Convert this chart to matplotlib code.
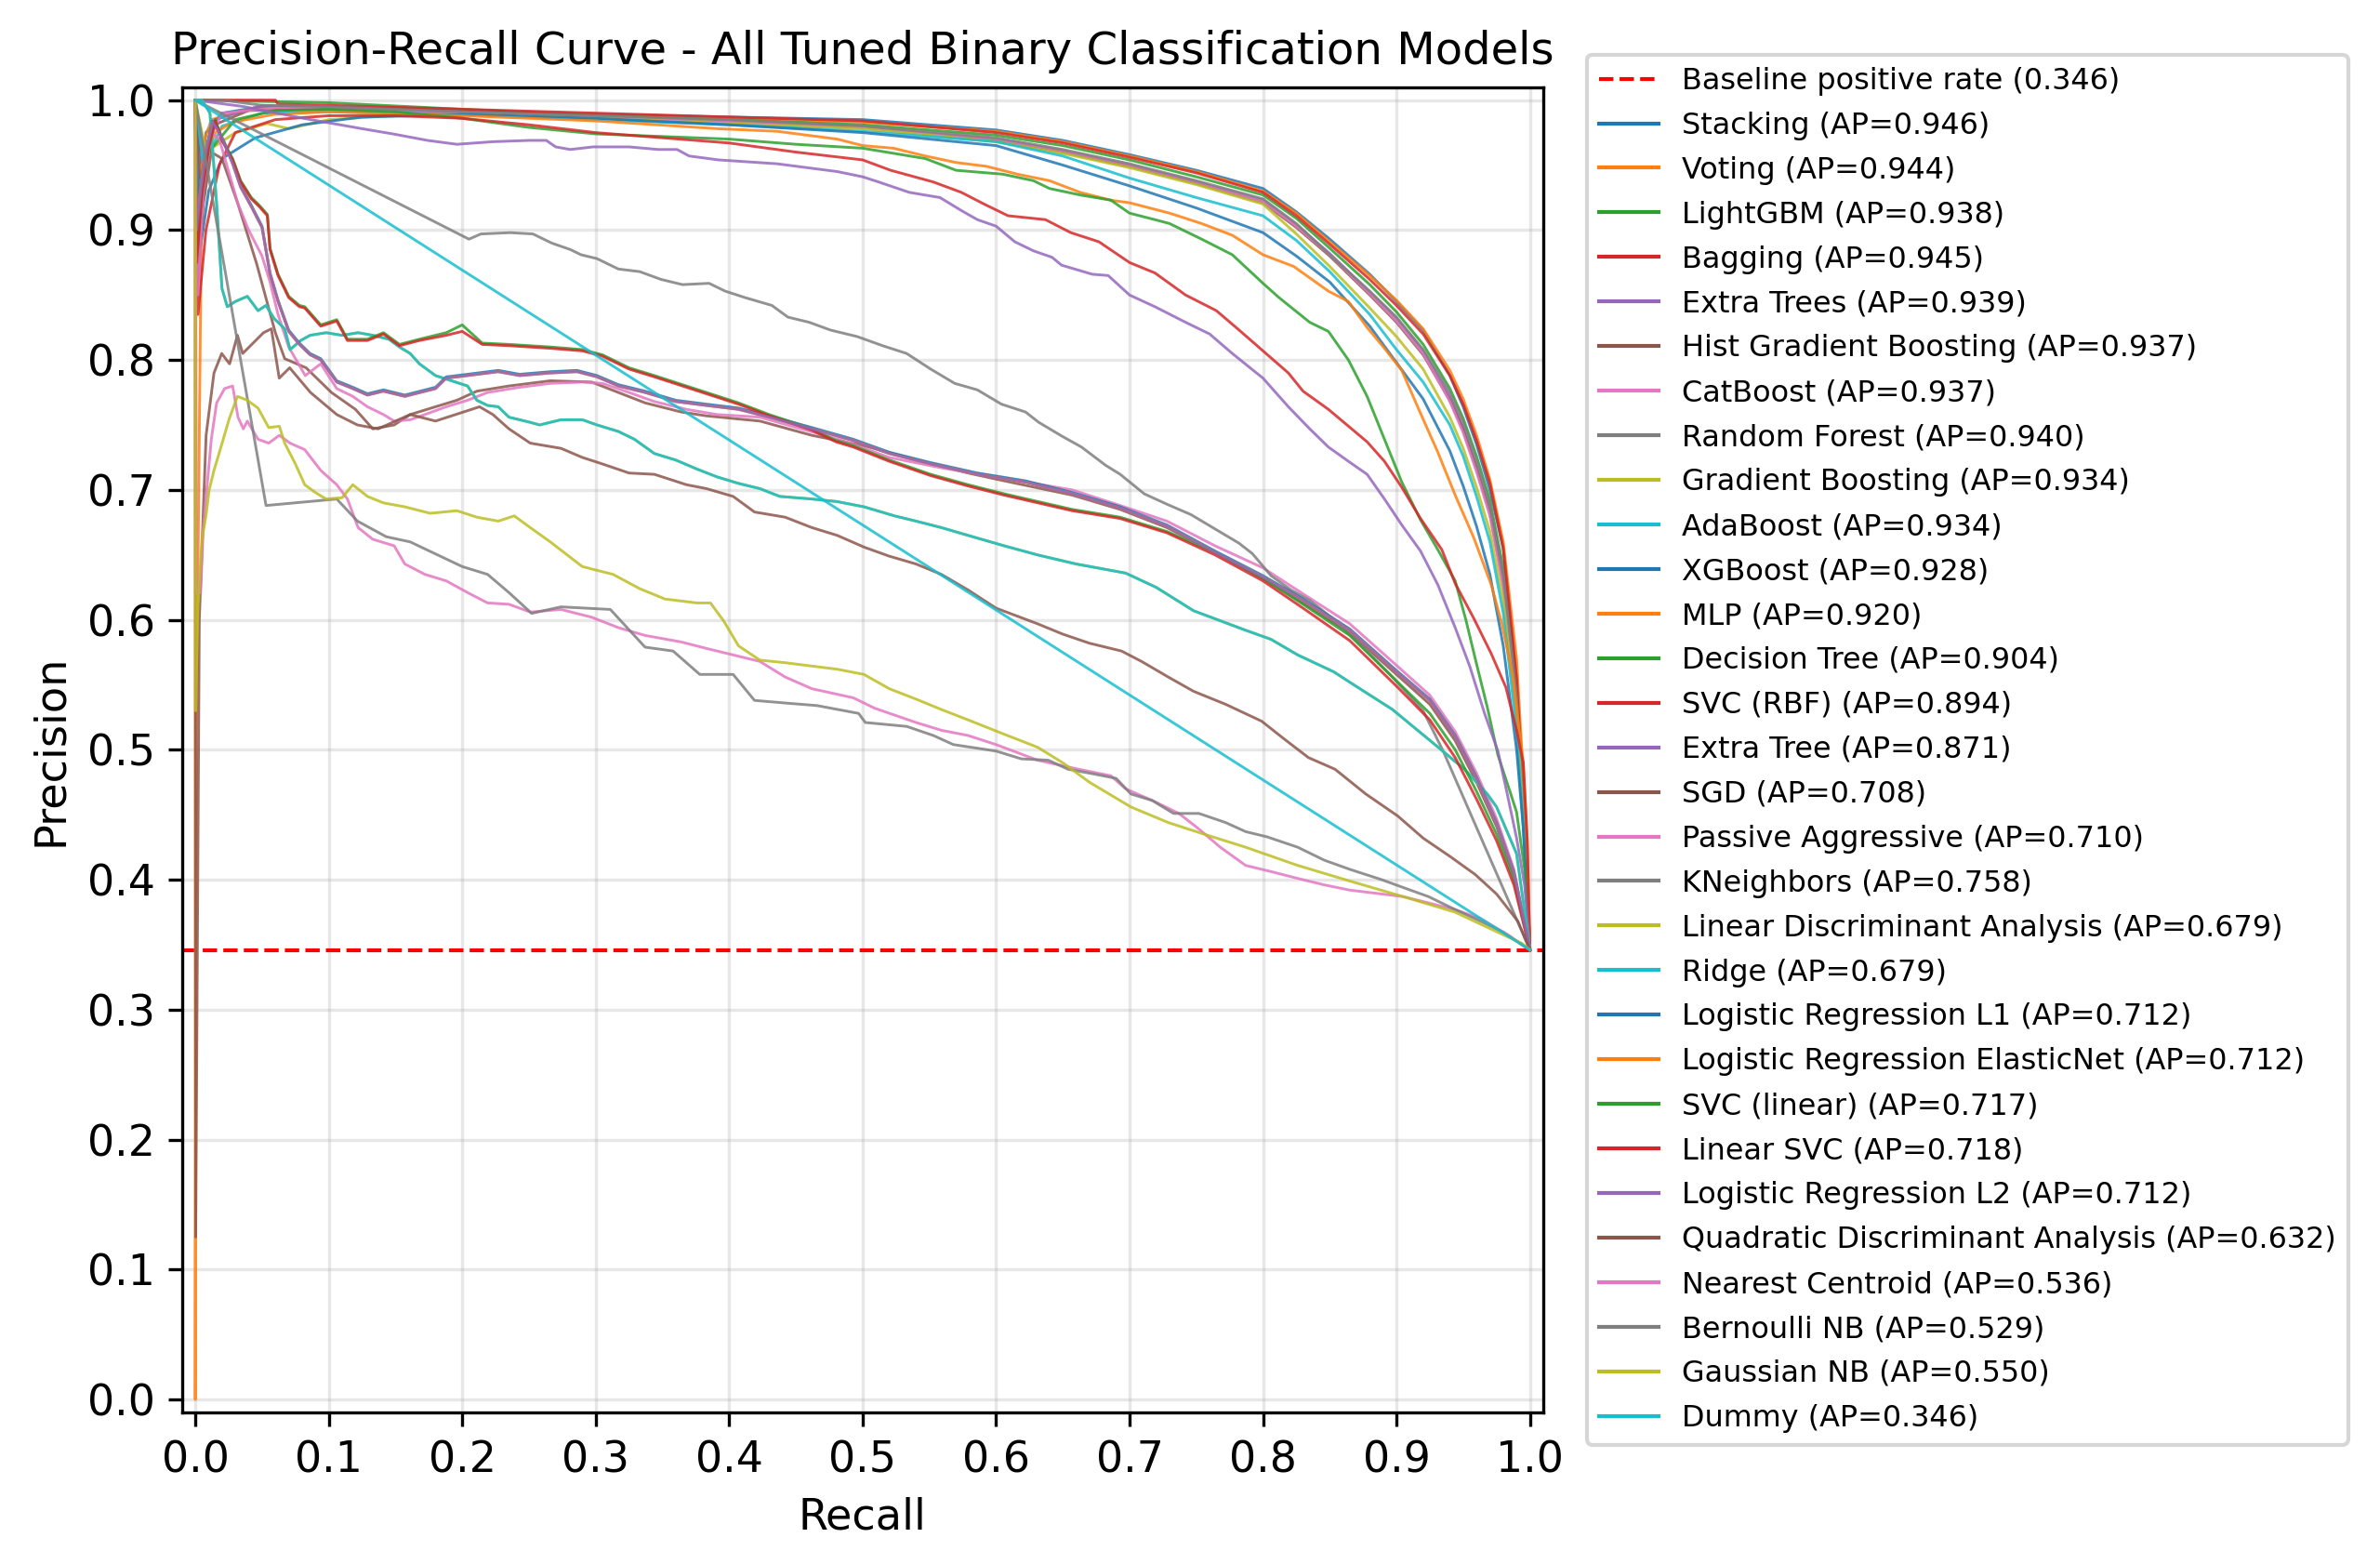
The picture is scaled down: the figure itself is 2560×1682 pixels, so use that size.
import matplotlib
matplotlib.use("Agg")
import matplotlib.pyplot as plt

# ---------------- data (recall, precision) ----------------
BASELINE = 0.346

STACKING = [(0.0, 1.0), (0.003, 0.93), (0.008, 0.975), (0.02, 0.99), (0.05, 0.995), (0.1, 0.995), (0.2, 0.992),
            (0.3, 0.989), (0.4, 0.987), (0.5, 0.985), (0.6, 0.977), (0.65, 0.969), (0.7, 0.958), (0.75, 0.946),
            (0.8, 0.932), (0.825, 0.914), (0.85, 0.893), (0.88, 0.866), (0.9, 0.845), (0.92, 0.823), (0.94, 0.788),
            (0.95, 0.764), (0.96, 0.735), (0.97, 0.700), (0.98, 0.655), (0.99, 0.555), (0.995, 0.470), (1.0, 0.346)]
VOTING = [(0.0, 1.0), (0.004, 0.96), (0.012, 0.985), (0.04, 0.993), (0.1, 0.994), (0.2, 0.991), (0.3, 0.988),
          (0.4, 0.986), (0.5, 0.983), (0.6, 0.976), (0.65, 0.968), (0.7, 0.957), (0.75, 0.945), (0.8, 0.930),
          (0.825, 0.913), (0.85, 0.891), (0.88, 0.865), (0.9, 0.846), (0.92, 0.824), (0.94, 0.792), (0.95, 0.770),
          (0.96, 0.742), (0.97, 0.708), (0.98, 0.660), (0.99, 0.570), (0.995, 0.480), (1.0, 0.346)]
LIGHTGBM = [(0.0, 1.0), (0.1, 0.998), (0.2, 0.993), (0.3, 0.988), (0.4, 0.985), (0.5, 0.981), (0.6, 0.973),
            (0.65, 0.965), (0.7, 0.954), (0.75, 0.941), (0.8, 0.927), (0.825, 0.909), (0.85, 0.886), (0.88, 0.858),
            (0.9, 0.837), (0.92, 0.812), (0.94, 0.778), (0.95, 0.755), (0.96, 0.726), (0.97, 0.692), (0.98, 0.640),
            (0.99, 0.545), (0.995, 0.460), (1.0, 0.346)]
BAGGING = [(0.0, 1.0), (0.06, 1.0), (0.062, 0.997), (0.1, 0.996), (0.2, 0.993), (0.3, 0.990), (0.4, 0.987),
           (0.5, 0.984), (0.6, 0.975), (0.65, 0.967), (0.7, 0.956), (0.75, 0.944), (0.8, 0.929), (0.825, 0.911),
           (0.85, 0.889), (0.88, 0.862), (0.9, 0.842), (0.92, 0.820), (0.94, 0.788), (0.95, 0.766), (0.96, 0.738),
           (0.97, 0.705), (0.98, 0.655), (0.99, 0.555), (0.995, 0.465), (1.0, 0.346)]
EXTRA_TREES = [(0.0, 1.0), (0.005, 0.95), (0.015, 0.985), (0.05, 0.996), (0.1, 0.994), (0.2, 0.991), (0.3, 0.987),
               (0.4, 0.983), (0.5, 0.979), (0.6, 0.970), (0.65, 0.961), (0.7, 0.950), (0.75, 0.937), (0.8, 0.923),
               (0.825, 0.904), (0.85, 0.882), (0.88, 0.852), (0.9, 0.832), (0.92, 0.807), (0.94, 0.772),
               (0.95, 0.748), (0.96, 0.718), (0.97, 0.684), (0.98, 0.632), (0.99, 0.540), (0.995, 0.455), (1.0, 0.346)]
HIST_GB = [(0.0, 1.0), (0.004, 0.94), (0.012, 0.98), (0.04, 0.992), (0.1, 0.993), (0.2, 0.990), (0.3, 0.987),
           (0.4, 0.983), (0.5, 0.979), (0.6, 0.969), (0.65, 0.960), (0.7, 0.949), (0.75, 0.936), (0.8, 0.921),
           (0.825, 0.902), (0.85, 0.880), (0.88, 0.850), (0.9, 0.829), (0.92, 0.804), (0.94, 0.769), (0.95, 0.746),
           (0.96, 0.716), (0.97, 0.682), (0.98, 0.628), (0.99, 0.535), (0.995, 0.450), (1.0, 0.346)]
CATBOOST = [(0.0, 1.0), (0.006, 0.96), (0.02, 0.99), (0.06, 0.994), (0.1, 0.994), (0.2, 0.990), (0.3, 0.987),
            (0.4, 0.983), (0.5, 0.979), (0.6, 0.970), (0.65, 0.961), (0.7, 0.950), (0.75, 0.937), (0.8, 0.922),
            (0.825, 0.903), (0.85, 0.881), (0.88, 0.851), (0.9, 0.830), (0.92, 0.805), (0.94, 0.768), (0.95, 0.744),
            (0.96, 0.714), (0.97, 0.680), (0.98, 0.625), (0.99, 0.532), (0.995, 0.450), (1.0, 0.346)]
RANDOM_FOREST = [(0.0, 1.0), (0.02, 1.0), (0.05, 0.996), (0.1, 0.995), (0.2, 0.991), (0.3, 0.988), (0.4, 0.985),
                 (0.5, 0.980), (0.6, 0.971), (0.65, 0.962), (0.7, 0.951), (0.75, 0.938), (0.8, 0.924), (0.825, 0.905),
                 (0.85, 0.881), (0.88, 0.853), (0.9, 0.833), (0.92, 0.808), (0.94, 0.775), (0.95, 0.752),
                 (0.96, 0.722), (0.97, 0.688), (0.98, 0.635), (0.99, 0.540), (0.995, 0.455), (1.0, 0.346)]
GRAD_BOOST = [(0.0, 1.0), (0.008, 0.96), (0.03, 0.975), (0.054, 0.982), (0.07, 0.978), (0.1, 0.985), (0.15, 0.988),
              (0.2, 0.989), (0.3, 0.986), (0.4, 0.982), (0.5, 0.978), (0.6, 0.968), (0.65, 0.959), (0.7, 0.948),
              (0.75, 0.935), (0.8, 0.920), (0.825, 0.897), (0.85, 0.872), (0.88, 0.840), (0.9, 0.818), (0.92, 0.793),
              (0.94, 0.756), (0.95, 0.732), (0.96, 0.702), (0.97, 0.668), (0.98, 0.615), (0.99, 0.525),
              (0.995, 0.445), (1.0, 0.346)]
ADABOOST = [(0.0, 1.0), (0.006, 0.95), (0.02, 0.98), (0.05, 0.99), (0.1, 0.991), (0.2, 0.989), (0.3, 0.985),
            (0.4, 0.981), (0.5, 0.976), (0.6, 0.968), (0.65, 0.957), (0.7, 0.940), (0.75, 0.925), (0.8, 0.911),
            (0.825, 0.892), (0.85, 0.868), (0.88, 0.835), (0.9, 0.808), (0.92, 0.783), (0.94, 0.750), (0.95, 0.726),
            (0.96, 0.695), (0.97, 0.660), (0.98, 0.605), (0.99, 0.515), (0.995, 0.440), (1.0, 0.346)]
XGBOOST = [(0.0, 1.0), (0.003, 0.88), (0.01, 0.93), (0.02, 0.955), (0.045, 0.971), (0.08, 0.981), (0.125, 0.987),
           (0.17, 0.988), (0.2, 0.989), (0.3, 0.986), (0.4, 0.981), (0.5, 0.975), (0.6, 0.965), (0.65, 0.950),
           (0.7, 0.934), (0.75, 0.917), (0.8, 0.898), (0.825, 0.880), (0.85, 0.860), (0.88, 0.826), (0.9, 0.798),
           (0.92, 0.770), (0.94, 0.730), (0.95, 0.703), (0.96, 0.672), (0.97, 0.635), (0.98, 0.580), (0.99, 0.500),
           (0.995, 0.440), (1.0, 0.346)]
MLP = [(0.0, 1.0), (0.0, 0.0), (0.0007, 0.5), (0.005, 0.95), (0.015, 0.975), (0.028, 0.983), (0.059, 0.989),
       (0.1, 0.991), (0.2, 0.988), (0.3, 0.984), (0.392, 0.978), (0.436, 0.976), (0.481, 0.970), (0.5, 0.965),
       (0.523, 0.963), (0.547, 0.957), (0.57, 0.952), (0.593, 0.949), (0.616, 0.943), (0.64, 0.938),
       (0.663, 0.929), (0.686, 0.923), (0.7, 0.921), (0.73, 0.913), (0.754, 0.905), (0.777, 0.896), (0.8, 0.881),
       (0.823, 0.872), (0.849, 0.853), (0.864, 0.845), (0.878, 0.825), (0.891, 0.809), (0.904, 0.792),
       (0.918, 0.759), (0.931, 0.729), (0.944, 0.696), (0.958, 0.663), (0.971, 0.627), (0.979, 0.597),
       (0.987, 0.558), (0.992, 0.515), (0.995, 0.490), (0.998, 0.430), (1.0, 0.346)]
DECISION_TREE = [(0.0, 1.0), (0.002, 0.89), (0.01, 0.96), (0.03, 0.985), (0.06, 0.992), (0.1, 0.993), (0.15, 0.991),
                 (0.2, 0.986), (0.25, 0.979), (0.3, 0.974), (0.35, 0.972), (0.4, 0.970), (0.45, 0.966), (0.5, 0.963),
                 (0.547, 0.955), (0.57, 0.946), (0.605, 0.943), (0.628, 0.938), (0.64, 0.932), (0.663, 0.927),
                 (0.686, 0.923), (0.7, 0.913), (0.719, 0.908), (0.73, 0.905), (0.754, 0.893), (0.777, 0.881),
                 (0.8, 0.859), (0.812, 0.848), (0.835, 0.829), (0.849, 0.822), (0.864, 0.800), (0.878, 0.772),
                 (0.891, 0.739), (0.904, 0.706), (0.918, 0.677), (0.931, 0.654), (0.944, 0.630), (0.952, 0.600),
                 (0.96, 0.566), (0.968, 0.533), (0.976, 0.496), (0.985, 0.468), (0.99, 0.452), (0.996, 0.408),
                 (1.0, 0.346)]
SVC_RBF = [(0.0, 1.0), (0.002, 0.835), (0.008, 0.90), (0.018, 0.95), (0.03, 0.975), (0.06, 0.985), (0.1, 0.988),
           (0.15, 0.988), (0.2, 0.986), (0.25, 0.981), (0.3, 0.975), (0.35, 0.971), (0.4, 0.967), (0.45, 0.960),
           (0.5, 0.954), (0.521, 0.946), (0.553, 0.937), (0.574, 0.929), (0.591, 0.920), (0.609, 0.911),
           (0.637, 0.908), (0.656, 0.898), (0.677, 0.891), (0.7, 0.875), (0.719, 0.867), (0.742, 0.850),
           (0.765, 0.838), (0.781, 0.824), (0.8, 0.807), (0.819, 0.790), (0.83, 0.776), (0.849, 0.762),
           (0.878, 0.737), (0.891, 0.722), (0.904, 0.702), (0.918, 0.678), (0.934, 0.654), (0.944, 0.628),
           (0.958, 0.601), (0.971, 0.574), (0.982, 0.548), (0.99, 0.515), (0.995, 0.490), (0.998, 0.430),
           (1.0, 0.346)]
EXTRA_TREE = [(0.0, 1.0), (0.0365, 0.995), (0.081, 0.986), (0.125, 0.978), (0.148, 0.974), (0.174, 0.969),
              (0.196, 0.966), (0.223, 0.968), (0.25, 0.969), (0.263, 0.969), (0.27, 0.964), (0.281, 0.962),
              (0.298, 0.964), (0.325, 0.964), (0.347, 0.962), (0.361, 0.962), (0.37, 0.957), (0.392, 0.954),
              (0.436, 0.951), (0.481, 0.945), (0.5, 0.941), (0.512, 0.937), (0.535, 0.929), (0.558, 0.925),
              (0.574, 0.915), (0.586, 0.908), (0.6, 0.903), (0.614, 0.891), (0.628, 0.884), (0.642, 0.879),
              (0.649, 0.873), (0.672, 0.866), (0.684, 0.865), (0.7, 0.850), (0.719, 0.841), (0.742, 0.829),
              (0.76, 0.820), (0.777, 0.805), (0.8, 0.786), (0.819, 0.764), (0.835, 0.747), (0.849, 0.733),
              (0.864, 0.722), (0.878, 0.712), (0.891, 0.693), (0.904, 0.673), (0.918, 0.653), (0.931, 0.627),
              (0.944, 0.594), (0.955, 0.564), (0.966, 0.528), (0.976, 0.499), (0.983, 0.466), (0.99, 0.432),
              (0.996, 0.396), (1.0, 0.346)]
SGD = [(0.0, 1.0), (0.002, 0.86), (0.006, 0.92), (0.012, 0.96), (0.02, 0.955), (0.032, 0.92), (0.046, 0.874),
       (0.06, 0.821), (0.067, 0.801), (0.083, 0.794), (0.102, 0.775), (0.12, 0.762), (0.133, 0.747), (0.149, 0.750),
       (0.161, 0.758), (0.18, 0.764), (0.196, 0.769), (0.211, 0.776), (0.235, 0.780), (0.266, 0.784), (0.297, 0.783),
       (0.317, 0.775), (0.337, 0.767), (0.364, 0.760), (0.383, 0.757), (0.423, 0.753), (0.462, 0.742),
       (0.501, 0.734), (0.54, 0.723), (0.579, 0.713), (0.606, 0.707), (0.657, 0.696), (0.693, 0.685),
       (0.728, 0.671), (0.764, 0.652), (0.8, 0.632), (0.83, 0.613), (0.865, 0.590), (0.9, 0.558), (0.925, 0.535),
       (0.944, 0.507), (0.96, 0.475), (0.975, 0.441), (0.988, 0.403), (1.0, 0.346)]
PASSIVE_AGG = [(0.0, 1.0), (0.002, 0.85), (0.006, 0.93), (0.012, 0.975), (0.018, 0.97), (0.025, 0.945),
               (0.032, 0.92), (0.04, 0.90), (0.05, 0.88), (0.056, 0.86), (0.062, 0.835), (0.07, 0.81),
               (0.0824, 0.788), (0.094, 0.797), (0.106, 0.778), (0.118, 0.772), (0.129, 0.764), (0.141, 0.758),
               (0.149, 0.753), (0.161, 0.754), (0.172, 0.758), (0.188, 0.764), (0.204, 0.769), (0.219, 0.775),
               (0.243, 0.779), (0.266, 0.782), (0.29, 0.783), (0.305, 0.782), (0.325, 0.775), (0.344, 0.768),
               (0.368, 0.762), (0.391, 0.758), (0.423, 0.756), (0.454, 0.747), (0.485, 0.738), (0.52, 0.725),
               (0.559, 0.717), (0.606, 0.709), (0.657, 0.700), (0.693, 0.688), (0.728, 0.676), (0.764, 0.657),
               (0.8, 0.640), (0.83, 0.620), (0.865, 0.597), (0.9, 0.565), (0.925, 0.542), (0.944, 0.514),
               (0.96, 0.482), (0.975, 0.447), (0.988, 0.408), (1.0, 0.346)]
KNEIGHBORS = [(0.0, 1.0), (0.205, 0.893), (0.214, 0.897), (0.236, 0.898), (0.253, 0.897), (0.267, 0.890),
              (0.281, 0.885), (0.289, 0.881), (0.301, 0.878), (0.317, 0.870), (0.333, 0.868), (0.349, 0.862),
              (0.365, 0.858), (0.385, 0.859), (0.397, 0.853), (0.412, 0.848), (0.432, 0.842), (0.444, 0.833),
              (0.46, 0.829), (0.476, 0.823), (0.496, 0.818), (0.515, 0.811), (0.533, 0.805), (0.551, 0.793),
              (0.569, 0.782), (0.586, 0.777), (0.604, 0.766), (0.622, 0.760), (0.632, 0.752), (0.65, 0.741),
              (0.664, 0.733), (0.682, 0.719), (0.693, 0.712), (0.711, 0.697), (0.728, 0.689), (0.746, 0.681),
              (0.764, 0.670), (0.782, 0.659), (0.792, 0.651), (0.806, 0.634), (0.821, 0.623), (0.835, 0.615),
              (0.851, 0.602), (0.874, 0.580), (0.897, 0.556), (0.92, 0.530), (0.935, 0.499), (1.0, 0.346)]
LDA = [(0.0, 1.0), (0.005, 1.0), (0.011, 0.99), (0.016, 0.92), (0.02, 0.855), (0.024, 0.841), (0.03, 0.845),
       (0.039, 0.849), (0.047, 0.838), (0.053, 0.842), (0.059, 0.832), (0.067, 0.824), (0.071, 0.808), (0.079, 0.815),
       (0.086, 0.819), (0.098, 0.821), (0.11, 0.819), (0.122, 0.821), (0.133, 0.819), (0.145, 0.816), (0.153, 0.810),
       (0.161, 0.805), (0.168, 0.797), (0.18, 0.788), (0.192, 0.784), (0.204, 0.780), (0.211, 0.769), (0.219, 0.765),
       (0.227, 0.764), (0.235, 0.756), (0.251, 0.752), (0.258, 0.750), (0.274, 0.754), (0.29, 0.754), (0.301, 0.750),
       (0.317, 0.745), (0.329, 0.739), (0.344, 0.728), (0.36, 0.723), (0.376, 0.716), (0.391, 0.710), (0.407, 0.705),
       (0.423, 0.701), (0.438, 0.695), (0.462, 0.693), (0.481, 0.691), (0.501, 0.687), (0.524, 0.680),
       (0.54, 0.676), (0.559, 0.671), (0.579, 0.665), (0.606, 0.657), (0.631, 0.650), (0.66, 0.643), (0.697, 0.636),
       (0.72, 0.625), (0.748, 0.607), (0.787, 0.592), (0.806, 0.585), (0.826, 0.573), (0.853, 0.560),
       (0.865, 0.552), (0.897, 0.531), (0.93, 0.503), (0.951, 0.485), (0.968, 0.466), (0.975, 0.456),
       (0.99, 0.420), (1.0, 0.346)]
RIDGE = [(0.0, 1.0), (0.005, 1.0), (0.011, 0.99), (0.016, 0.92), (0.02, 0.855), (0.024, 0.841), (0.03, 0.845),
         (0.039, 0.849), (0.047, 0.838), (0.053, 0.842), (0.059, 0.832), (0.067, 0.824), (0.071, 0.808),
         (0.079, 0.815), (0.086, 0.819), (0.098, 0.821), (0.11, 0.819), (0.122, 0.821), (0.133, 0.819),
         (0.145, 0.816), (0.153, 0.810), (0.161, 0.805), (0.168, 0.797), (0.18, 0.788), (0.192, 0.784),
         (0.204, 0.780), (0.211, 0.769), (0.219, 0.765), (0.227, 0.764), (0.235, 0.756), (0.251, 0.752),
         (0.258, 0.750), (0.274, 0.754), (0.29, 0.754), (0.301, 0.750), (0.317, 0.745), (0.329, 0.739),
         (0.344, 0.728), (0.36, 0.723), (0.376, 0.716), (0.391, 0.710), (0.407, 0.705), (0.423, 0.701),
         (0.438, 0.695), (0.462, 0.693), (0.481, 0.691), (0.501, 0.687), (0.524, 0.680), (0.54, 0.676),
         (0.559, 0.671), (0.579, 0.665), (0.606, 0.657), (0.631, 0.650), (0.66, 0.643), (0.697, 0.636),
         (0.72, 0.625), (0.748, 0.607), (0.787, 0.592), (0.806, 0.585), (0.826, 0.573), (0.853, 0.560),
         (0.865, 0.552), (0.897, 0.531), (0.93, 0.503), (0.951, 0.485), (0.968, 0.466), (0.975, 0.456),
         (0.99, 0.420), (1.0, 0.346)]
LR_L2 = [(0.0, 1.0), (0.001, 0.90), (0.004, 0.93), (0.008, 0.96), (0.013, 0.983), (0.018, 0.975), (0.022, 0.966),
         (0.028, 0.951), (0.034, 0.933), (0.042, 0.918), (0.05, 0.902), (0.056, 0.866), (0.062, 0.845), (0.07, 0.822),
         (0.078, 0.812), (0.086, 0.804), (0.094, 0.800), (0.106, 0.783), (0.118, 0.778), (0.129, 0.773),
         (0.141, 0.776), (0.157, 0.772), (0.18, 0.778), (0.188, 0.786), (0.204, 0.788), (0.227, 0.791),
         (0.243, 0.788), (0.266, 0.790), (0.286, 0.791), (0.301, 0.787), (0.317, 0.780), (0.337, 0.775),
         (0.36, 0.768), (0.383, 0.765), (0.407, 0.762), (0.43, 0.756), (0.462, 0.747), (0.493, 0.738),
         (0.52, 0.728), (0.551, 0.720), (0.586, 0.712), (0.622, 0.706), (0.657, 0.697), (0.693, 0.686),
         (0.728, 0.672), (0.764, 0.652), (0.8, 0.633), (0.83, 0.615), (0.865, 0.592), (0.9, 0.560), (0.925, 0.538),
         (0.944, 0.510), (0.96, 0.478), (0.975, 0.443), (0.988, 0.405), (1.0, 0.346)]
LR_L1 = [(0.0, 1.0), (0.001, 0.91), (0.004, 0.935), (0.008, 0.962), (0.013, 0.984), (0.018, 0.976), (0.022, 0.967),
         (0.028, 0.952), (0.034, 0.934), (0.042, 0.919), (0.05, 0.903), (0.056, 0.867), (0.062, 0.846), (0.07, 0.823),
         (0.078, 0.813), (0.086, 0.805), (0.094, 0.801), (0.106, 0.784), (0.118, 0.779), (0.129, 0.774),
         (0.141, 0.777), (0.157, 0.773), (0.18, 0.779), (0.188, 0.787), (0.204, 0.789), (0.227, 0.792),
         (0.243, 0.789), (0.266, 0.791), (0.286, 0.792), (0.301, 0.788), (0.317, 0.781), (0.337, 0.776),
         (0.36, 0.769), (0.383, 0.766), (0.407, 0.763), (0.43, 0.757), (0.462, 0.748), (0.493, 0.739),
         (0.52, 0.729), (0.551, 0.721), (0.586, 0.713), (0.622, 0.707), (0.657, 0.698), (0.693, 0.687),
         (0.728, 0.673), (0.764, 0.653), (0.8, 0.634), (0.83, 0.616), (0.865, 0.593), (0.9, 0.561), (0.925, 0.539),
         (0.944, 0.511), (0.96, 0.479), (0.975, 0.444), (0.988, 0.406), (1.0, 0.346)]
LR_ELASTICNET = [(0.0, 1.0), (0.001, 0.905), (0.004, 0.932), (0.008, 0.961), (0.013, 0.983), (0.018, 0.975),
                 (0.022, 0.966), (0.028, 0.951), (0.034, 0.933), (0.042, 0.918), (0.05, 0.902), (0.056, 0.866),
                 (0.062, 0.845), (0.07, 0.822), (0.078, 0.812), (0.086, 0.804), (0.094, 0.800), (0.106, 0.783),
                 (0.118, 0.778), (0.129, 0.773), (0.141, 0.776), (0.157, 0.772), (0.18, 0.778), (0.188, 0.786),
                 (0.204, 0.788), (0.227, 0.791), (0.243, 0.788), (0.266, 0.790), (0.286, 0.791), (0.301, 0.787),
                 (0.317, 0.780), (0.337, 0.775), (0.36, 0.768), (0.383, 0.765), (0.407, 0.762), (0.43, 0.756),
                 (0.462, 0.747), (0.493, 0.738), (0.52, 0.728), (0.551, 0.720), (0.586, 0.712), (0.622, 0.706),
                 (0.657, 0.697), (0.693, 0.686), (0.728, 0.672), (0.764, 0.652), (0.8, 0.633), (0.83, 0.615),
                 (0.865, 0.592), (0.9, 0.560), (0.925, 0.538), (0.944, 0.510), (0.96, 0.478), (0.975, 0.443),
                 (0.988, 0.405), (1.0, 0.346)]
SVC_LINEAR = [(0.0, 1.0), (0.001, 0.88), (0.005, 0.93), (0.01, 0.965), (0.015, 0.985), (0.02, 0.97), (0.028, 0.955),
              (0.034, 0.938), (0.042, 0.925), (0.048, 0.919), (0.054, 0.912), (0.056, 0.886), (0.062, 0.866),
              (0.07, 0.849), (0.078, 0.842), (0.082, 0.841), (0.094, 0.827), (0.106, 0.831), (0.114, 0.816),
              (0.129, 0.816), (0.141, 0.821), (0.153, 0.812), (0.168, 0.816), (0.188, 0.821), (0.2, 0.827),
              (0.215, 0.813), (0.235, 0.812), (0.266, 0.810), (0.29, 0.808), (0.305, 0.804), (0.325, 0.794),
              (0.344, 0.788), (0.368, 0.780), (0.383, 0.775), (0.407, 0.767), (0.43, 0.758), (0.462, 0.747),
              (0.48, 0.738), (0.493, 0.734), (0.52, 0.723), (0.551, 0.712), (0.579, 0.704), (0.606, 0.697),
              (0.657, 0.685), (0.693, 0.679), (0.728, 0.668), (0.764, 0.652), (0.8, 0.632), (0.83, 0.612),
              (0.865, 0.588), (0.9, 0.553), (0.925, 0.528), (0.944, 0.500), (0.96, 0.468), (0.975, 0.435),
              (0.988, 0.400), (1.0, 0.346)]
LINEAR_SVC = [(0.0, 1.0), (0.001, 0.875), (0.005, 0.928), (0.01, 0.963), (0.015, 0.984), (0.02, 0.969),
              (0.028, 0.954), (0.034, 0.937), (0.042, 0.924), (0.048, 0.918), (0.054, 0.911), (0.056, 0.885),
              (0.062, 0.865), (0.07, 0.848), (0.078, 0.841), (0.082, 0.840), (0.094, 0.826), (0.106, 0.830),
              (0.114, 0.815), (0.129, 0.815), (0.141, 0.820), (0.153, 0.811), (0.168, 0.815), (0.188, 0.819),
              (0.2, 0.822), (0.215, 0.812), (0.235, 0.811), (0.266, 0.809), (0.29, 0.807), (0.305, 0.803),
              (0.325, 0.793), (0.344, 0.787), (0.368, 0.779), (0.383, 0.774), (0.407, 0.766), (0.43, 0.757),
              (0.462, 0.746), (0.48, 0.737), (0.493, 0.733), (0.52, 0.722), (0.551, 0.711), (0.579, 0.703),
              (0.606, 0.696), (0.657, 0.684), (0.693, 0.678), (0.728, 0.667), (0.764, 0.650), (0.8, 0.630),
              (0.83, 0.609), (0.865, 0.584), (0.9, 0.549), (0.925, 0.523), (0.944, 0.494), (0.96, 0.462),
              (0.975, 0.430), (0.988, 0.396), (1.0, 0.346)]
QDA = [(0.0, 1.0), (0.0003, 0.125), (0.003, 0.60), (0.0081, 0.742), (0.014, 0.79), (0.0198, 0.805), (0.0257, 0.797),
       (0.0316, 0.819), (0.0355, 0.805), (0.0433, 0.813), (0.0511, 0.821), (0.057, 0.824), (0.0629, 0.786),
       (0.0707, 0.794), (0.0863, 0.775), (0.106, 0.758), (0.1215, 0.750), (0.137, 0.747), (0.161, 0.758),
       (0.18, 0.753), (0.204, 0.761), (0.213, 0.764), (0.223, 0.758), (0.235, 0.747), (0.251, 0.736),
       (0.274, 0.732), (0.29, 0.725), (0.305, 0.720), (0.325, 0.713), (0.344, 0.712), (0.368, 0.704),
       (0.383, 0.701), (0.403, 0.695), (0.419, 0.683), (0.442, 0.679), (0.462, 0.671), (0.481, 0.665),
       (0.501, 0.656), (0.52, 0.649), (0.54, 0.643), (0.559, 0.635), (0.579, 0.623), (0.6, 0.609), (0.631, 0.597),
       (0.65, 0.589), (0.67, 0.582), (0.694, 0.576), (0.709, 0.568), (0.729, 0.556), (0.748, 0.545),
       (0.772, 0.535), (0.799, 0.522), (0.815, 0.509), (0.834, 0.494), (0.854, 0.485), (0.877, 0.466),
       (0.901, 0.449), (0.92, 0.432), (0.94, 0.418), (0.959, 0.404), (0.975, 0.389), (0.991, 0.368), (1.0, 0.346)]
NEAREST_CENTROID = [(0.0, 1.0), (0.001, 0.62), (0.004, 0.621), (0.006, 0.671), (0.012, 0.739), (0.016, 0.767),
                    (0.022, 0.778), (0.028, 0.780), (0.032, 0.756), (0.036, 0.747), (0.039, 0.753), (0.047, 0.739),
                    (0.055, 0.736), (0.063, 0.742), (0.071, 0.736), (0.082, 0.731), (0.094, 0.715), (0.106, 0.704),
                    (0.114, 0.693), (0.122, 0.671), (0.133, 0.662), (0.149, 0.657), (0.157, 0.643), (0.172, 0.635),
                    (0.188, 0.630), (0.204, 0.621), (0.219, 0.613), (0.235, 0.612), (0.251, 0.606), (0.274, 0.608),
                    (0.297, 0.602), (0.317, 0.594), (0.337, 0.588), (0.364, 0.583), (0.383, 0.578), (0.407, 0.572),
                    (0.423, 0.568), (0.442, 0.556), (0.462, 0.547), (0.493, 0.540), (0.509, 0.532), (0.54, 0.521),
                    (0.559, 0.515), (0.579, 0.511), (0.6, 0.504), (0.631, 0.492), (0.662, 0.485), (0.686, 0.480),
                    (0.697, 0.470), (0.717, 0.461), (0.737, 0.451), (0.752, 0.439), (0.768, 0.425), (0.787, 0.411),
                    (0.807, 0.406), (0.826, 0.401), (0.846, 0.396), (0.865, 0.392), (0.905, 0.387), (0.944, 0.377),
                    (0.963, 0.370), (0.983, 0.358), (1.0, 0.346)]
BERNOULLI_NB = [(0.0, 1.0), (0.053, 0.688), (0.106, 0.693), (0.1215, 0.676), (0.143, 0.664), (0.161, 0.660),
                (0.2, 0.641), (0.219, 0.635), (0.235, 0.621), (0.252, 0.605), (0.274, 0.610), (0.311, 0.608),
                (0.337, 0.579), (0.358, 0.576), (0.378, 0.558), (0.403, 0.558), (0.419, 0.538), (0.442, 0.536),
                (0.466, 0.534), (0.497, 0.528), (0.502, 0.521), (0.533, 0.518), (0.553, 0.511), (0.568, 0.504),
                (0.6, 0.499), (0.619, 0.493), (0.639, 0.492), (0.654, 0.485), (0.67, 0.482), (0.69, 0.478),
                (0.701, 0.466), (0.717, 0.461), (0.733, 0.451), (0.752, 0.451), (0.772, 0.444), (0.787, 0.437),
                (0.803, 0.433), (0.826, 0.425), (0.846, 0.415), (0.865, 0.408), (0.889, 0.400), (0.905, 0.394),
                (0.924, 0.387), (0.944, 0.377), (0.963, 0.368), (0.979, 0.360), (1.0, 0.346)]
GAUSSIAN_NB = [(0.0, 1.0), (0.0003, 0.53), (0.002, 0.609), (0.005, 0.662), (0.008, 0.68), (0.0104, 0.70),
               (0.014, 0.715), (0.0198, 0.735), (0.0255, 0.755), (0.0316, 0.772), (0.039, 0.769), (0.047, 0.763),
               (0.055, 0.748), (0.063, 0.749), (0.067, 0.736), (0.075, 0.720), (0.082, 0.704), (0.09, 0.698),
               (0.098, 0.693), (0.11, 0.694), (0.118, 0.704), (0.129, 0.695), (0.141, 0.690), (0.157, 0.687),
               (0.176, 0.682), (0.196, 0.684), (0.211, 0.679), (0.227, 0.676), (0.239, 0.680), (0.251, 0.671),
               (0.266, 0.660), (0.29, 0.641), (0.313, 0.635), (0.333, 0.624), (0.352, 0.616), (0.376, 0.613),
               (0.386, 0.613), (0.396, 0.599), (0.407, 0.580), (0.423, 0.569), (0.442, 0.567), (0.481, 0.562),
               (0.501, 0.558), (0.52, 0.547), (0.54, 0.539), (0.559, 0.531), (0.579, 0.523), (0.606, 0.512),
               (0.631, 0.502), (0.65, 0.490), (0.67, 0.475), (0.701, 0.456), (0.729, 0.444), (0.756, 0.435),
               (0.787, 0.425), (0.826, 0.411), (0.865, 0.399), (0.905, 0.387), (0.944, 0.375), (0.975, 0.360),
               (0.994, 0.351), (1.0, 0.346)]
DUMMY = [(0.0, 1.0), (1.0, 0.346)]

MODEL_NAMES = ["Stacking", "Voting", "LightGBM", "Bagging", "Extra Trees", "Hist Gradient Boosting", "CatBoost",
               "Random Forest", "Gradient Boosting", "AdaBoost", "XGBoost", "MLP", "Decision Tree", "SVC (RBF)",
               "Extra Tree", "SGD", "Passive Aggressive", "KNeighbors", "Linear Discriminant Analysis", "Ridge",
               "Logistic Regression L1", "Logistic Regression ElasticNet", "SVC (linear)", "Linear SVC",
               "Logistic Regression L2", "Quadratic Discriminant Analysis", "Nearest Centroid", "Bernoulli NB",
               "Gaussian NB", "Dummy"]
AP_SCORES = [0.946, 0.944, 0.938, 0.945, 0.939, 0.937, 0.937, 0.940, 0.934, 0.934, 0.928, 0.920, 0.904, 0.894,
             0.871, 0.708, 0.710, 0.758, 0.679, 0.679, 0.712, 0.712, 0.717, 0.718, 0.712, 0.632, 0.536, 0.529,
             0.550, 0.346]
CURVES = [STACKING, VOTING, LIGHTGBM, BAGGING, EXTRA_TREES, HIST_GB, CATBOOST, RANDOM_FOREST, GRAD_BOOST, ADABOOST,
          XGBOOST, MLP, DECISION_TREE, SVC_RBF, EXTRA_TREE, SGD, PASSIVE_AGG, KNEIGHBORS, LDA, RIDGE, LR_L1,
          LR_ELASTICNET, SVC_LINEAR, LINEAR_SVC, LR_L2, QDA, NEAREST_CENTROID, BERNOULLI_NB, GAUSSIAN_NB, DUMMY]

# ---------------- plotting ----------------
W, H, DPI = 2560, 1682, 300
fig = plt.figure(figsize=(W / DPI, H / DPI), dpi=DPI)
ax = fig.add_axes([195.7 / W, 163 / H, (1660 - 195.7) / W, (1588.3 - 163) / H])

colors = plt.rcParams['axes.prop_cycle'].by_key()['color']

ax.axhline(BASELINE, color='red', linestyle='--', linewidth=1.0,
           label=f'Baseline positive rate ({BASELINE:.3f})')
for i, (name, ap, pts) in enumerate(zip(MODEL_NAMES, AP_SCORES, CURVES)):
    r = [p[0] for p in pts]
    pr = [p[1] for p in pts]
    ax.plot(r, pr, color=colors[i % 10], linewidth=0.7, alpha=0.85, label=f'{name} (AP={ap:.3f})')

ax.set_xlim(-0.01, 1.01)
ax.set_ylim(-0.01, 1.01)
ticks = [i / 10 for i in range(11)]
ax.set_xticks(ticks)
ax.set_yticks(ticks)
ax.set_xticklabels([f'{t:.1f}' for t in ticks])
ax.set_yticklabels([f'{t:.1f}' for t in ticks])
ax.tick_params(labelsize=11)
ax.grid(True, alpha=0.3)
ax.set_xlabel('Recall', fontsize=11.1)
ax.set_ylabel('Precision', fontsize=11.1)
ax.set_title('Precision-Recall Curve - All Tuned Binary Classification Models', fontsize=11.57)

leg = ax.legend(loc='upper left', bbox_to_anchor=(1707 / W, 1 - 59 / H), bbox_transform=fig.transFigure,
                borderaxespad=0, fontsize=7.67, labelspacing=0.53)
for ln in leg.get_lines():
    ln.set_linewidth(1.0)
    ln.set_alpha(1.0)

fig.savefig('out.png', dpi=DPI)
